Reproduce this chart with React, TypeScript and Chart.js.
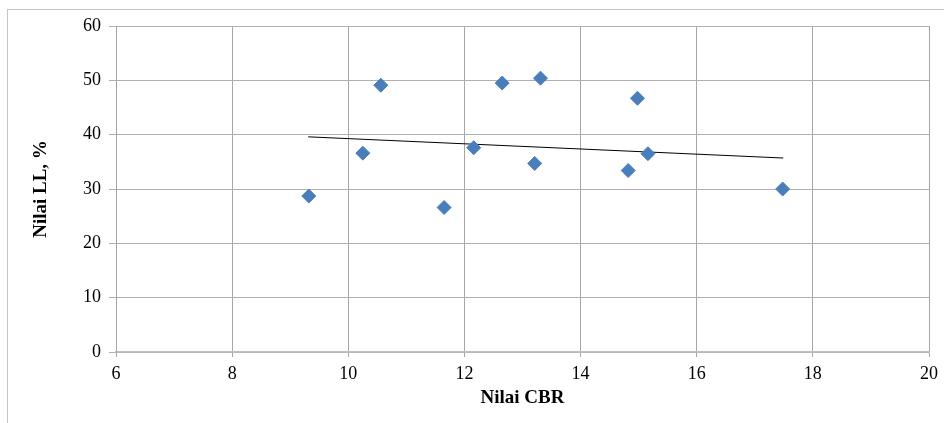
import React, { useEffect, useRef } from "react";
import { Chart, registerables } from "chart.js";

Chart.register(...registerables);

const cbrValues = [9.32, 10.25, 10.56, 11.65, 12.16, 12.65, 13.21, 13.31, 14.82, 14.98, 15.16, 17.48];
const llValues = [28.7, 36.6, 49.1, 26.6, 37.6, 49.5, 34.7, 50.4, 33.4, 46.7, 36.5, 30.0];
const trendX = [9.31, 17.49];
const trendY = [39.6, 35.7];
const xTitle = "Nilai CBR";
const yTitle = "Nilai LL, %";

const FONT = "'Liberation Serif', 'Times New Roman', serif";

export default function App() {
  const ref = useRef<HTMLCanvasElement | null>(null);
  useEffect(() => {
    if (!ref.current) return;
    const chart = new Chart(ref.current, {
      type: "scatter",
      data: {
        datasets: [
          {
            label: "LL",
            data: cbrValues.map((x, i) => ({ x, y: llValues[i] })),
            pointStyle: "rectRot",
            pointRadius: 7,
            pointHoverRadius: 7,
            backgroundColor: "#4a7ebb",
            borderColor: "#4a7ebb",
            borderWidth: 1,
            showLine: false,
          },
          {
            label: "Trend",
            data: trendX.map((x, i) => ({ x, y: trendY[i] })),
            showLine: true,
            borderColor: "#000000",
            borderWidth: 1,
            pointRadius: 0,
            fill: false,
          },
        ],
      },
      options: {
        responsive: false,
        animation: false,
        layout: { padding: { left: 0, right: 15, top: 26, bottom: 0 } },
        plugins: { legend: { display: false }, tooltip: { enabled: false } },
        scales: {
          x: {
            type: "linear",
            min: 6,
            max: 20,
            ticks: { stepSize: 2, color: "#000", font: { family: FONT, size: 18 }, padding: 6 },
            grid: { color: "#a6a6a6", lineWidth: 1, tickLength: 5, tickColor: "#a6a6a6" },
            border: { color: "#bfbfbf", width: 1.5 },
            title: {
              display: true,
              text: xTitle,
              color: "#000",
              font: { family: FONT, size: 19, weight: "bold" },
              padding: { top: 0, bottom: 14 },
            },
            afterFit: (s: any) => {
              s.height = 71;
            },
          },
          y: {
            type: "linear",
            min: 0,
            max: 60,
            ticks: { stepSize: 10, color: "#000", font: { family: FONT, size: 18 }, padding: 8 },
            grid: { color: "#b0b0b0", lineWidth: 1, tickLength: 7, tickColor: "#b0b0b0" },
            border: { color: "#a6a6a6", width: 1 },
            title: {
              display: true,
              text: yTitle,
              color: "#000",
              font: { family: FONT, size: 19, weight: "bold" },
              padding: { top: 30, bottom: 0 },
            },
            afterFit: (s: any) => {
              s.width = 116;
            },
          },
        },
      },
    });
    return () => chart.destroy();
  }, []);

  return (
    <div style={{ position: "absolute", left: 0, top: 0, width: 944, height: 423, background: "#fff" }}>
      <div
        style={{
          position: "absolute",
          left: 7,
          top: 9,
          width: 944 - 8,
          height: 423 - 10,
          borderLeft: "1px solid #c4c4c4",
          borderTop: "1px solid #c4c4c4",
        }}
      />
      <canvas
        ref={ref}
        width={944}
        height={423}
        style={{ position: "absolute", left: 0, top: 0, width: 944, height: 423 }}
      />
    </div>
  );
}
